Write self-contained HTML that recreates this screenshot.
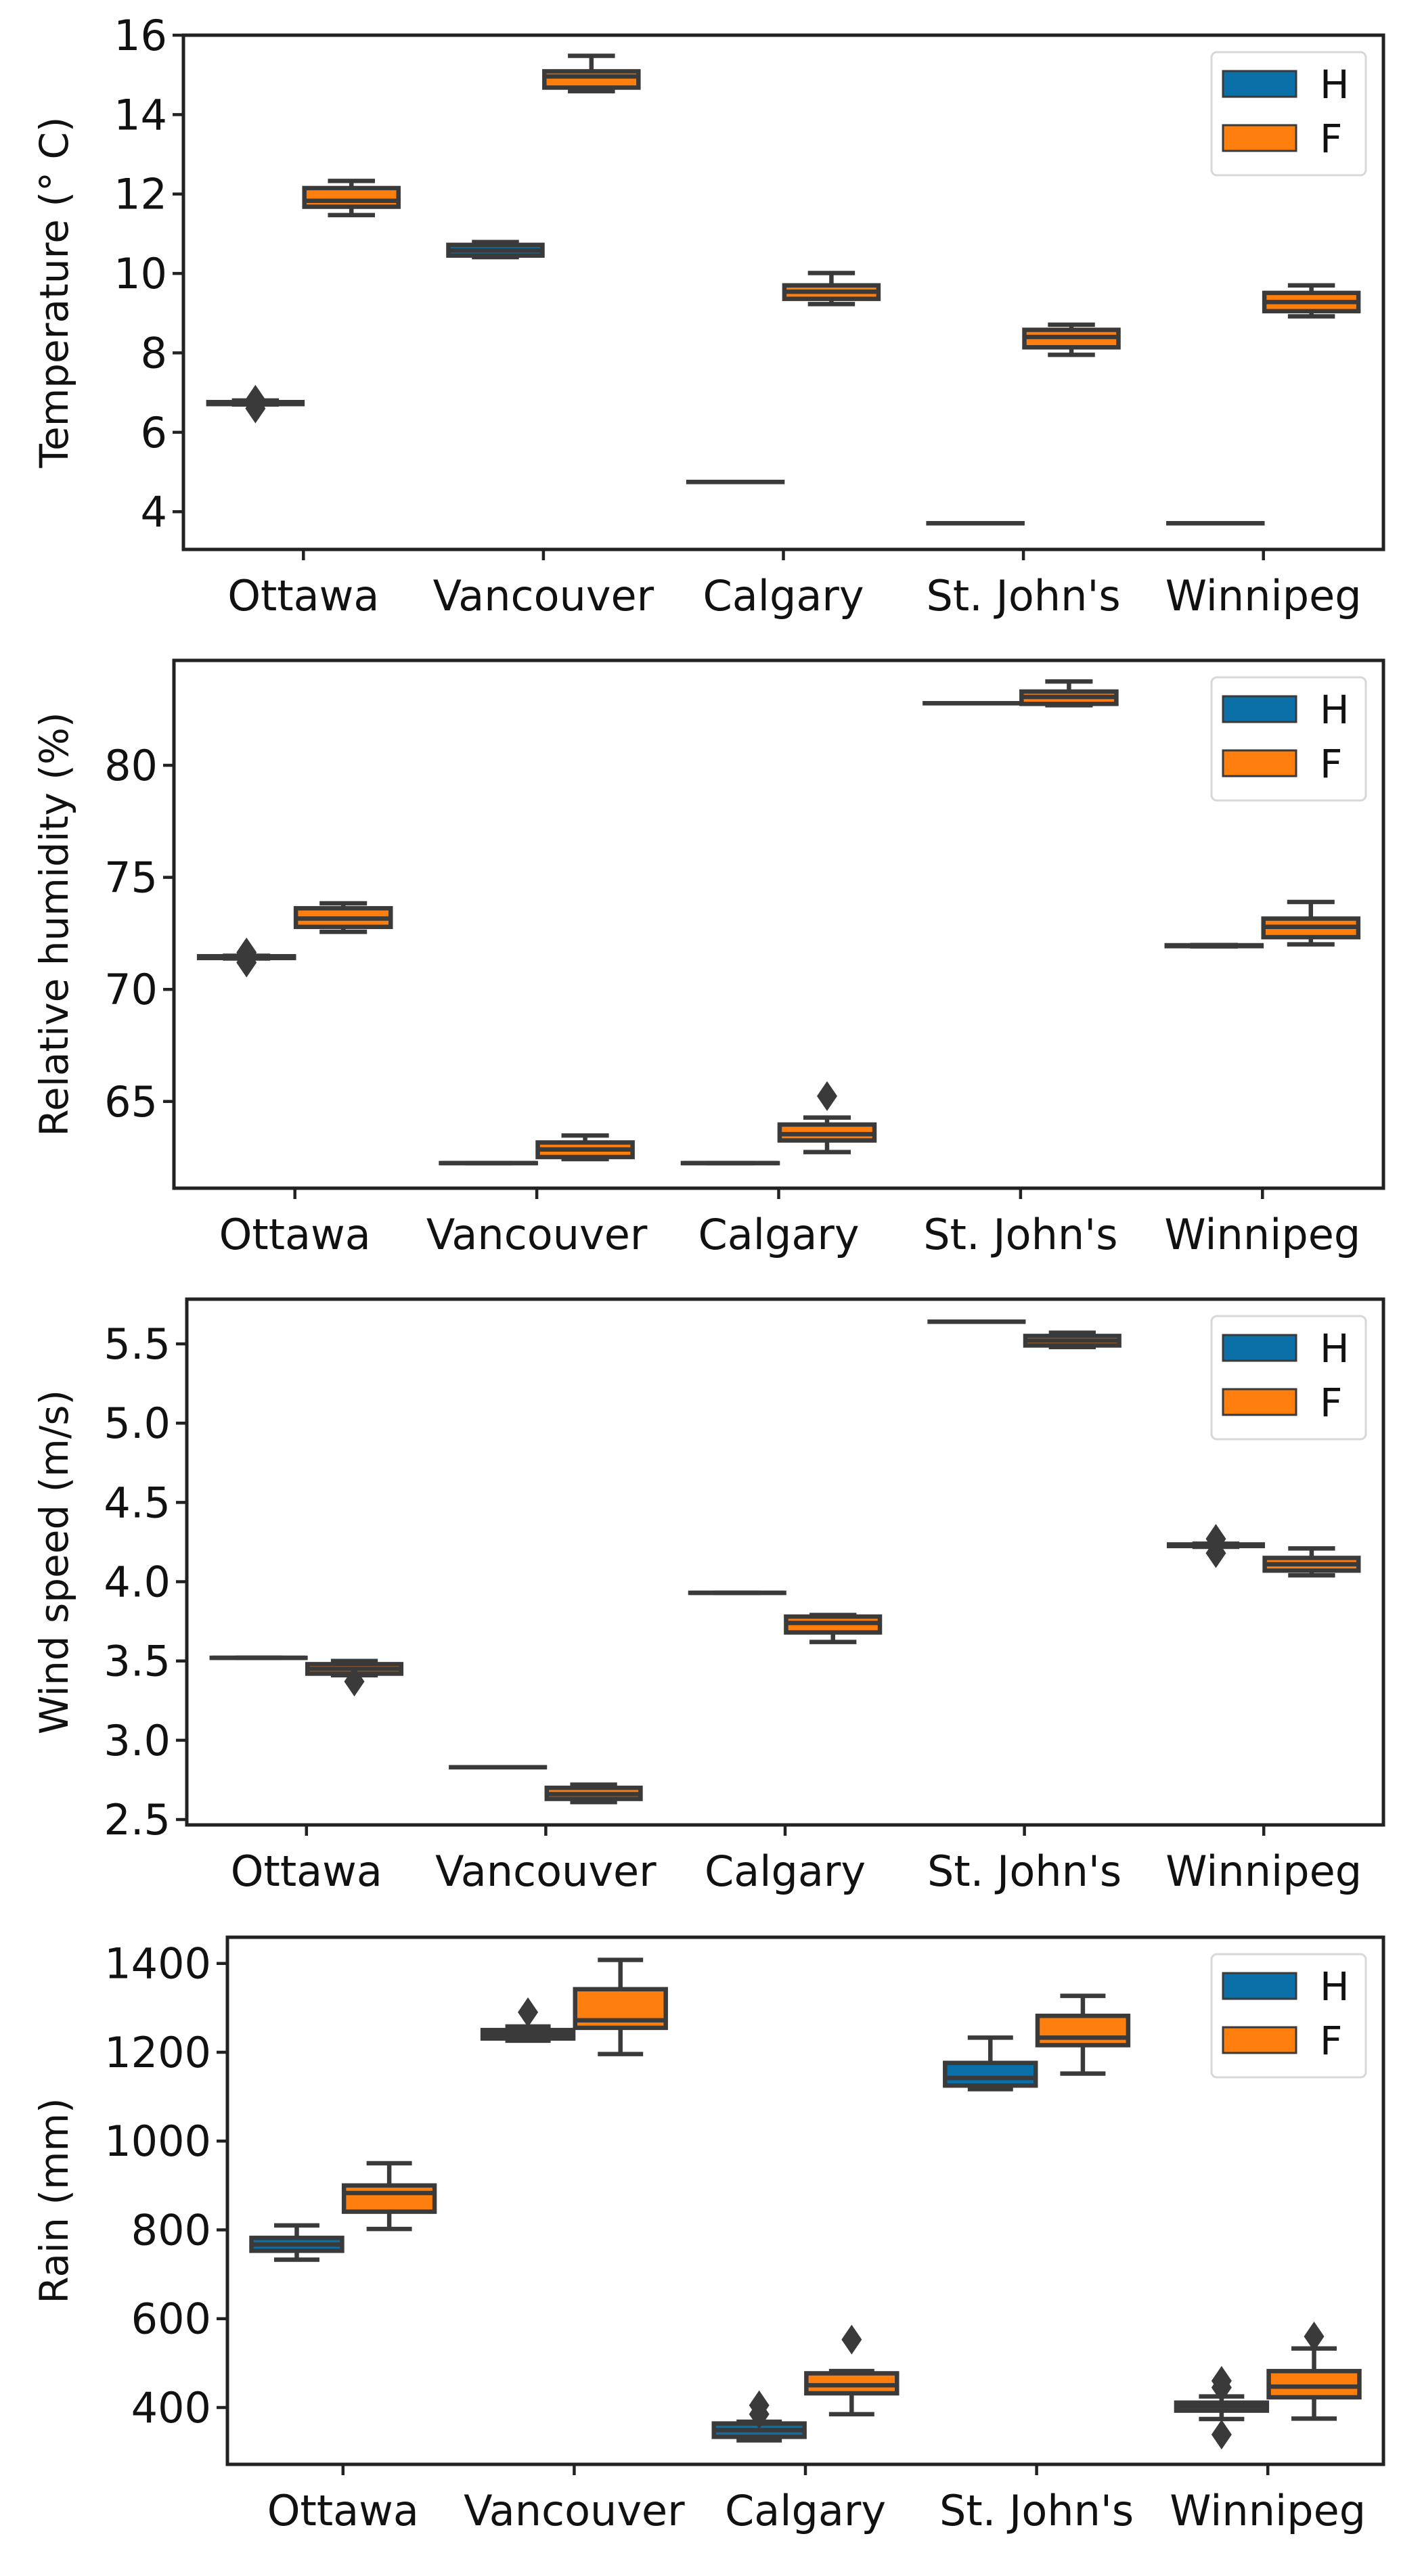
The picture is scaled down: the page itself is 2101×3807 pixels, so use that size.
<!DOCTYPE html>
<html><head><meta charset="utf-8"><style>
html,body{margin:0;padding:0;background:#fff;}
svg text{font-family:"DejaVu Sans","Liberation Sans",sans-serif;fill:#111;}
</style></head><body>
<svg id="fig" width="2101" height="3802" viewBox="0 0 2101 3802" xmlns="http://www.w3.org/2000/svg"></svg>
<script>
const categories = ["Ottawa","Vancouver","Calgary","St. John's","Winnipeg"];
const hues = ["H","F"];
// each stat: [whiskerLow, q1, median, q3, whiskerHigh]
const tempH = [[6.70,6.71,6.73,6.76,6.80],[10.41,10.45,10.58,10.72,10.79],[4.75,4.75,4.75,4.75,4.75],[3.71,3.71,3.71,3.71,3.71],[3.71,3.71,3.71,3.71,3.71]];
const tempF = [[11.47,11.68,11.83,12.15,12.33],[14.59,14.68,14.96,15.09,15.48],[9.23,9.36,9.54,9.70,10.01],[7.95,8.14,8.40,8.58,8.71],[8.92,9.05,9.28,9.51,9.70]];
const tempHFliers = [[6.60,6.82],[],[],[],[]];
const tempFFliers = [[],[],[],[],[]];
const humH = [[71.38,71.40,71.44,71.48,71.50],[62.25,62.25,62.25,62.25,62.25],[62.25,62.25,62.25,62.25,62.25],[82.77,82.77,82.77,82.77,82.77],[71.92,71.93,71.95,71.97,71.98]];
const humF = [[72.57,72.79,73.16,73.62,73.84],[62.43,62.52,62.86,63.17,63.48],[62.74,63.26,63.54,63.97,64.28],[82.68,82.74,83.05,83.29,83.74],[72.01,72.33,72.79,73.16,73.90]];
const humHFliers = [[71.2,71.65],[],[],[],[]];
const humFFliers = [[],[],[65.24],[],[]];
const windH = [[3.52,3.52,3.52,3.52,3.52],[2.83,2.83,2.83,2.83,2.83],[3.93,3.93,3.93,3.93,3.93],[5.64,5.64,5.64,5.64,5.64],[4.22,4.225,4.23,4.235,4.24]];
const windF = [[3.41,3.42,3.45,3.48,3.50],[2.61,2.63,2.66,2.70,2.72],[3.62,3.68,3.74,3.78,3.79],[5.48,5.49,5.52,5.55,5.57],[4.04,4.07,4.11,4.15,4.21]];
const windHFliers = [[],[],[],[],[4.18,4.27]];
const windFFliers = [[3.37],[],[],[],[]];
const rainH = [[733,753,767,782,810],[1226,1231,1240,1250,1258],[326,334,349,364,368],[1117,1125,1142,1176,1233],[374,393,403,411,425]];
const rainF = [[802,841,883,900,950],[1196,1255,1272,1342,1408],[385,432,450,477,482],[1152,1216,1233,1282,1327],[375,423,447,482,533]];
const rainHFliers = [[],[1290],[385,405],[],[339,445,460]];
const rainFFliers = [[],[],[553],[],[560]];
const tempTicks = [4,6,8,10,12,14,16];
const humTicks = [65,70,75,80];
const windTicks = [2.5,3.0,3.5,4.0,4.5,5.0,5.5];
const rainTicks = [400,600,800,1000,1200,1400];

const NS="http://www.w3.org/2000/svg";
const svg=document.getElementById('fig');
const COL={H:"#0b6fa8",F:"#ff7f0e"}, LC="#3a3a3a", LW=6.5;
function mk(tag,attrs,parent){const e=document.createElementNS(NS,tag);for(const k in attrs)e.setAttribute(k,attrs[k]);(parent||svg).appendChild(e);return e;}

const panels=[
 {key:"temperature",label:"Temperature (° C)",L:271,R:2044,T:52,B:812,min:3.05,max:16,ticks:tempTicks,dec:0,H:tempH,F:tempF,HF:tempHFliers,FF:tempFFliers},
 {key:"humidity",label:"Relative humidity (%)",L:257,R:2044,T:976,B:1756,min:61.13,max:84.68,ticks:humTicks,dec:0,H:humH,F:humF,HF:humHFliers,FF:humFFliers},
 {key:"wind-speed",label:"Wind speed (m/s)",L:276,R:2044,T:1920,B:2697,min:2.466,max:5.782,ticks:windTicks,dec:1,H:windH,F:windF,HF:windHFliers,FF:windFFliers},
 {key:"rain",label:"Rain (mm)",L:336,R:2044,T:2863,B:3642,min:272,max:1459,ticks:rainTicks,dec:0,H:rainH,F:rainF,HF:rainHFliers,FF:rainFFliers}
];

panels.forEach(p=>{
 const g=mk('g',{});
 
 
 const band=(p.R-p.L)/categories.length;
 const xc=i=>p.L+band*(i+0.5);
 const y=v=>p.B-(v-p.min)/(p.max-p.min)*(p.B-p.T);
 p.ticks.forEach(t=>{
  const yy=y(t);
  const tk=mk('line',{x1:p.L-16,x2:p.L,y1:yy,y2:yy,stroke:"#222","stroke-width":4.5},g);
  
  
  const tl=mk('text',{x:p.L-24,y:yy+22,"text-anchor":"end","font-size":62},g);
  
  
  tl.textContent=t.toFixed(p.dec);
 });
 categories.forEach((c,i)=>{
  const tk=mk('line',{x1:xc(i),x2:xc(i),y1:p.B,y2:p.B+16,stroke:"#222","stroke-width":4.5},g);
  
  
  const tl=mk('text',{x:xc(i),y:p.B+90,"text-anchor":"middle","font-size":62},g);
  
  
  tl.textContent=c;
 });
 const cy=(p.T+p.B)/2;
 const yl=mk('text',{x:0,y:0,"text-anchor":"middle","font-size":58,transform:`translate(100 ${cy}) rotate(-90)`},g);
 
 
 yl.textContent=p.label;
 const bw=band*0.4*0.98;
 hues.forEach((h,hi)=>{
  const stats=p[h], fl=p[h+"F"];
  categories.forEach((c,i)=>{
   const cx=xc(i)+(hi===0?-1:1)*band*0.2;
   const s=stats[i];
   const bg=mk('g',{},g);
   
   
   mk('line',{x1:cx,x2:cx,y1:y(s[0]),y2:y(s[1]),stroke:LC,"stroke-width":LW},bg);
   mk('line',{x1:cx,x2:cx,y1:y(s[3]),y2:y(s[4]),stroke:LC,"stroke-width":LW},bg);
   mk('line',{x1:cx-bw/4,x2:cx+bw/4,y1:y(s[0]),y2:y(s[0]),stroke:LC,"stroke-width":LW},bg);
   mk('line',{x1:cx-bw/4,x2:cx+bw/4,y1:y(s[4]),y2:y(s[4]),stroke:LC,"stroke-width":LW},bg);
   const top=y(s[3]), bot=y(s[1]);
   mk('rect',{x:cx-bw/2,y:top,width:bw,height:Math.max(bot-top,0.1),fill:COL[h],stroke:LC,"stroke-width":LW},bg);
   mk('line',{x1:cx-bw/2,x2:cx+bw/2,y1:y(s[2]),y2:y(s[2]),stroke:LC,"stroke-width":LW},bg);
   fl[i].forEach(v=>{
    const fy=y(v);
    const d=mk('polygon',{points:`${cx},${fy-22} ${cx+15},${fy} ${cx},${fy+22} ${cx-15},${fy}`,fill:LC},bg);
    
    
   });
  });
 });
 const fr=mk('rect',{x:p.L,y:p.T,width:p.R-p.L,height:p.B-p.T,fill:"none",stroke:"#222","stroke-width":5},g);
 
 
 const lg=mk('g',{},g);
 
 
 const lt=p.T+25;
 mk('rect',{x:1790,y:lt,width:228,height:182,rx:8,fill:"#fff",stroke:"#d8d8d8","stroke-width":3},lg);
 hues.forEach((h,hi)=>{
  const ey=lt+47+hi*80;
  const pe=mk('rect',{x:1807,y:ey-19,width:108,height:38,fill:COL[h],stroke:LC,"stroke-width":3},lg);
  
  
  const t=mk('text',{x:1950,y:ey+21,"font-size":58},lg);
  
  
  t.textContent=h;
 });
});
</script>
</body></html>
